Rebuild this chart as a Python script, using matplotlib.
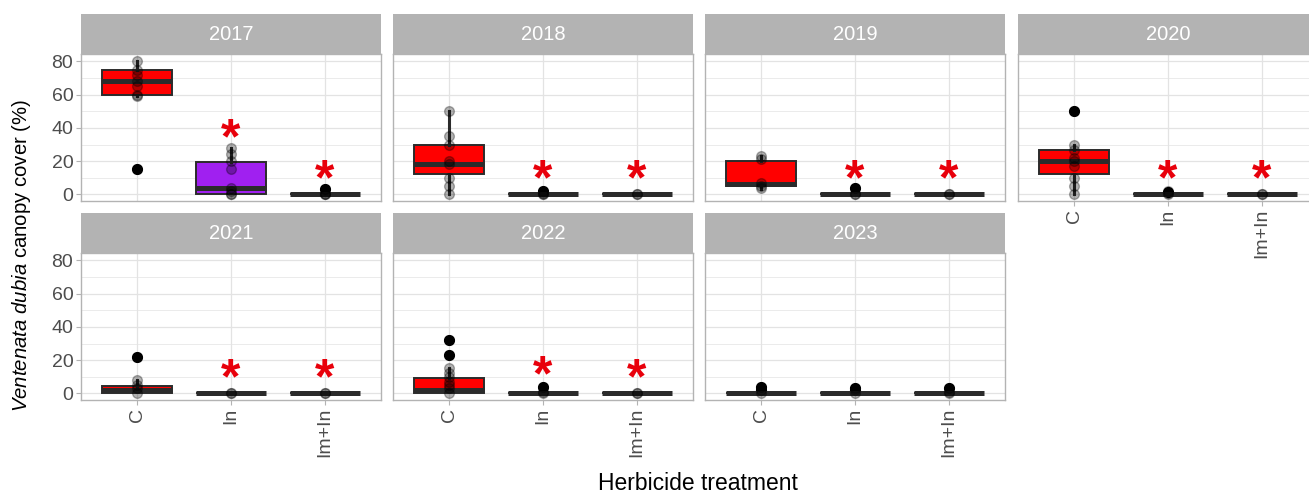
import matplotlib
matplotlib.use("Agg")
import matplotlib.pyplot as plt

plt.rcParams['font.family'] = ['Liberation Sans', 'DejaVu Sans']
plt.rcParams['mathtext.fontset'] = 'custom'
plt.rcParams['mathtext.it'] = 'Liberation Sans:italic'
plt.rcParams['mathtext.rm'] = 'Liberation Sans'

years = ['2017', '2018', '2019', '2020', '2021', '2022', '2023']
treatments = ['C', 'In', 'Im+In']

# box stats per year, one value per treatment (C, In, Im+In)
whisk_lo = [[59, 0, 0], [0, 0, 0], [3, 0, 0], [0, 0, 0], [0, 0, 0], [0, 0, 0], [0, 0, 0]]
box_q1 = [[60, 0, 0], [12, 0, 0], [5, 0, 0], [12, 0, 0], [0, 0, 0], [0, 0, 0], [0, 0, 0]]
box_med = [[68, 4, 0], [18, 0, 0], [6, 0, 0], [20, 0, 0], [2, 0, 0], [2, 0, 0], [0, 0, 0]]
box_q3 = [[75, 19.5, 0], [30, 0, 0], [20, 0, 0], [27, 0, 0], [4.5, 0, 0], [9, 0, 0], [0, 0, 0]]
whisk_hi = [[80, 28, 0], [50, 0, 0], [23, 0, 0], [30, 0, 0], [8, 0, 0], [15, 0, 0], [0, 0, 0]]
outliers = [[[15], [], [3.5]], [[], [2], []], [[], [4], []], [[50], [1.5], []],
            [[22], [], []], [[32, 23], [4], []], [[4, 2], [3.5, 2], [3.5]]]

# raw observations overlaid on the boxes
points = [
    [[80, 75, 72, 68, 65, 60, 59, 15], [28, 24, 20, 15, 4, 2, 0, 0], [0, 0, 0, 3.5]],
    [[50, 35, 30, 20, 18, 10, 5, 0], [2, 1, 0, 0], [0, 0]],
    [[23, 21, 7, 5, 4], [4, 0, 0], [0, 0]],
    [[50, 30, 27, 22, 20, 17, 10, 5, 0], [2, 1, 0], [0, 0]],
    [[22, 8, 5, 3, 0], [0, 0], [0, 0]],
    [[32, 23, 15, 12, 10, 7, 5, 3, 0], [4, 1, 0], [0, 0]],
    [[4, 2, 0], [3.5, 2, 0], [3.5, 1, 0]],
]

fills = [['#FF0000', '#A020F0', '#FF0000']] + [['#FF0000'] * 3] * 6

# significance asterisks (None = no mark)
star_y = [[None, 40, 15], [None, 15, 15], [None, 15, 15], [None, 15, 15],
          [None, 15, 15], [None, 17, 15], [None, None, None]]

W, H = 1309, 494
fig = plt.figure(figsize=(W / 100, H / 100), dpi=100)

col_left = [81, 393, 705, 1018]
panel_w = 300
row_strip_top = [14, 213]
strip_h = 40
plot_h = 147

tick_col = '#4D4D4D'
grid_col = '#E3E3E3'
border_col = '#B3B3B3'
line_col = '#2B2B2B'

for k, year in enumerate(years):
    r, c = divmod(k, 4)
    x0 = col_left[c]
    top = row_strip_top[r]
    ax = fig.add_axes([x0 / W, 1 - (top + strip_h + plot_h) / H, panel_w / W, plot_h / H])
    sax = fig.add_axes([x0 / W, 1 - (top + strip_h) / H, panel_w / W, strip_h / H])
    sax.set_facecolor('#B3B3B3')
    sax.set_xticks([])
    sax.set_yticks([])
    for s in sax.spines.values():
        s.set_visible(False)
    sax.text(0.5, 0.5, year, color='white', fontsize=14.5, ha='center', va='center',
             transform=sax.transAxes)

    stats = []
    for j, t in enumerate(treatments):
        stats.append(dict(whislo=whisk_lo[k][j], q1=box_q1[k][j], med=box_med[k][j],
                          q3=box_q3[k][j], whishi=whisk_hi[k][j], fliers=outliers[k][j], label=t))
    bp = ax.bxp(stats, positions=[1, 2, 3], widths=0.75, showcaps=False, patch_artist=True,
                boxprops=dict(edgecolor=line_col, linewidth=1.4),
                medianprops=dict(color=line_col, linewidth=3.6, solid_capstyle='butt'),
                whiskerprops=dict(color=line_col, linewidth=2.2),
                flierprops=dict(marker='o', markerfacecolor='black', markeredgecolor='black',
                                markersize=7))
    for patch, fc in zip(bp['boxes'], fills[k]):
        patch.set_facecolor(fc)
        patch.set_zorder(2)

    for j in range(3):
        ys = points[k][j]
        ax.plot([j + 1] * len(ys), ys, 'o', color='black', alpha=0.3, markersize=7,
                markeredgecolor='black', zorder=3)
        if star_y[k][j] is not None:
            ax.annotate('*', (j + 1, star_y[k][j]), xytext=(0, -18), textcoords='offset points',
                        ha='center', va='baseline', color='#E8000B', fontsize=36,
                        fontweight='bold', zorder=4)

    ax.set_xlim(0.4, 3.6)
    ax.set_ylim(-4, 84.5)
    ax.set_yticks([0, 20, 40, 60, 80])
    ax.set_yticks([10, 30, 50, 70], minor=True)
    ax.grid(True, which='major', color=grid_col, linewidth=0.9)
    ax.grid(True, which='minor', axis='y', color=grid_col, linewidth=0.5)
    ax.set_axisbelow(True)
    for s in ax.spines.values():
        s.set_color(border_col)
        s.set_linewidth(1.0)
    ax.tick_params(axis='both', which='major', color=border_col, length=3.5, width=0.8,
                   labelcolor=tick_col, labelsize=14, pad=2)
    ax.tick_params(axis='y', which='minor', length=0)
    ax.set_xticks([1, 2, 3])
    ax.set_xticklabels(treatments, rotation=90)

    if c != 0:
        ax.tick_params(axis='y', which='major', length=0, labelleft=False)
    if r == 0 and k != 3:
        ax.tick_params(axis='x', length=0, labelbottom=False)

fig.text(22 / W, 1 - 255 / H, r'$\it{Ventenata\ dubia}$ canopy cover (%)', rotation=90,
         ha='center', va='center', fontsize=14.7, color='black')
fig.text(698 / W, 1 - 483 / H, 'Herbicide treatment', ha='center', va='center',
         fontsize=16.5, color='black')

fig.savefig('out.png', dpi=100)
